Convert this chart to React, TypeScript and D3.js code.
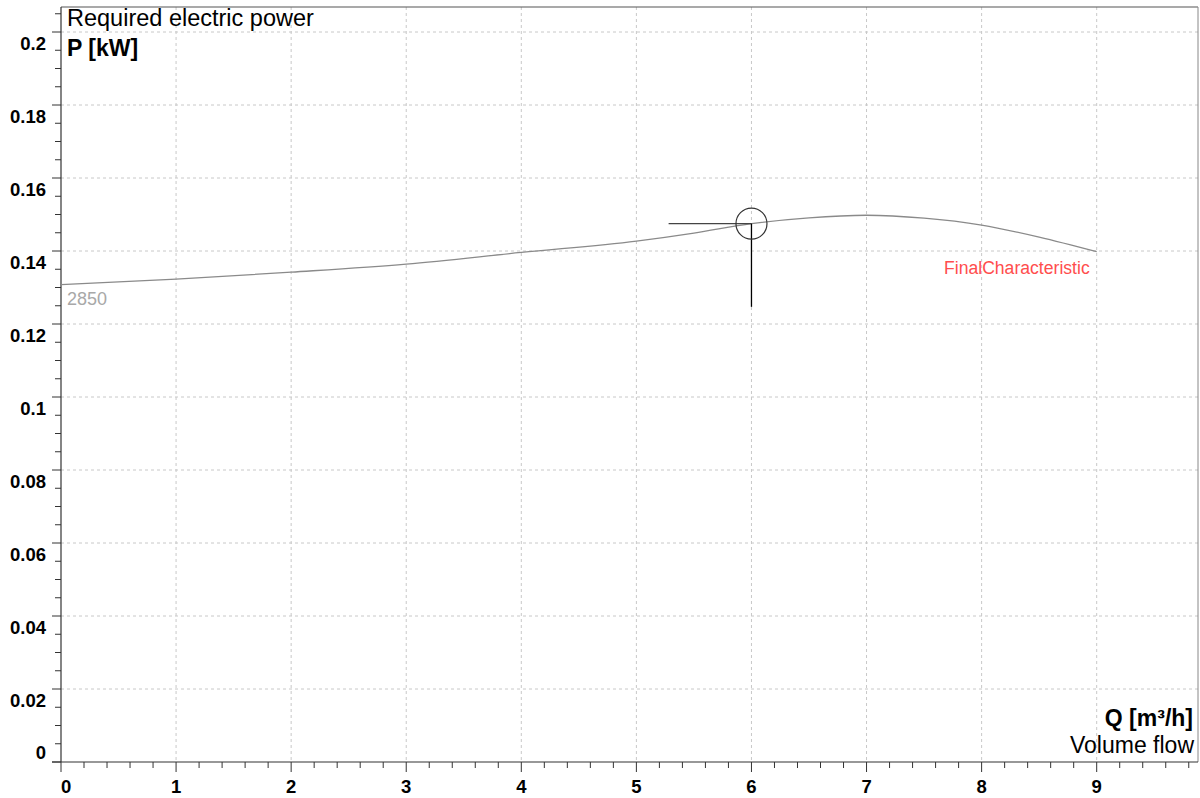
import React from "react";
import * as d3 from "d3";

const flowQ = [0, 1, 2, 3, 4, 5, 5.5, 6, 6.5, 7, 7.5, 8, 8.5, 9];
const powerP = [0.1308, 0.1323, 0.1342, 0.1364, 0.1396, 0.1427, 0.1449, 0.1475, 0.1491, 0.1498, 0.1490, 0.1471, 0.1438, 0.1398];
const xTicks = [0, 1, 2, 3, 4, 5, 6, 7, 8, 9];
const yTicks = [0, 0.02, 0.04, 0.06, 0.08, 0.1, 0.12, 0.14, 0.16, 0.18, 0.2];
const yTickLabels = ["0", "0.02", "0.04", "0.06", "0.08", "0.1", "0.12", "0.14", "0.16", "0.18", "0.2"];
const opPoint = { q: 6.0, p: 0.1475, qLeft: 5.28, pLow: 0.1247 };

const W = 1200;
const H = 798;
const L = 61, R = 1198, T = 7, B = 762;

export default function App() {
  const x = d3.scaleLinear().domain([0, 9]).range([L, 1096.7]);
  const y = d3.scaleLinear().domain([0, 0.2]).range([B, 32]);
  const xMax = x.invert(R);
  const yMax = y.invert(T);

  const minorX = d3.range(0, xMax, 0.2).filter((v) => Math.abs(v - Math.round(v)) > 1e-6);
  const minorY = d3.range(0, yMax, 0.005).filter((v) => Math.abs(v / 0.02 - Math.round(v / 0.02)) > 1e-6);

  const line = d3
    .line<number>()
    .x((_, i) => x(flowQ[i]))
    .y((d) => y(d))
    .curve(d3.curveMonotoneX);

  const font = "'Liberation Sans', Arial, sans-serif";
  const grid = "#c8c8c8";

  return (
    <svg width={W} height={H} style={{ position: "absolute", left: 0, top: 0, background: "#fff" }} fontFamily={font}>
      <rect x={0} y={0} width={W} height={H} fill="#fff" />
      {xTicks.filter((v) => v > 0).map((v) => (
        <line key={"gx" + v} x1={x(v)} x2={x(v)} y1={T} y2={B} stroke={grid} strokeDasharray="3,3" />
      ))}
      {yTicks.filter((v) => v > 0).map((v) => (
        <line key={"gy" + v} x1={L} x2={R} y1={y(v)} y2={y(v)} stroke={grid} strokeDasharray="3,3" />
      ))}
      <line x1={L} x2={R} y1={T} y2={T} stroke="#555" strokeWidth={1.2} />
      <line x1={R} x2={R} y1={T} y2={B} stroke="#888" strokeWidth={1} />
      <line x1={L} x2={L} y1={T} y2={B} stroke="#333" strokeWidth={1.2} />
      <line x1={52} x2={R} y1={B} y2={B} stroke="#333" strokeWidth={1.2} />
      {yTicks.map((v) => (
        <line key={"ty" + v} x1={52} x2={L} y1={y(v)} y2={y(v)} stroke="#333" />
      ))}
      {minorY.map((v) => (
        <line key={"my" + v} x1={55} x2={L} y1={y(v)} y2={y(v)} stroke="#333" />
      ))}
      {xTicks.map((v) => (
        <line key={"tx" + v} x1={x(v)} x2={x(v)} y1={B} y2={772} stroke="#333" />
      ))}
      {minorX.map((v) => (
        <line key={"mx" + v} x1={x(v)} x2={x(v)} y1={B} y2={768} stroke="#333" />
      ))}
      {yTicks.map((v, i) => (
        <text key={"ly" + v} x={46} y={v === 0 ? 759 : y(v) + 18} textAnchor="end" fontSize={18.5} fontWeight="bold" fill="#000">
          {yTickLabels[i]}
        </text>
      ))}
      {xTicks.map((v) => (
        <text key={"lx" + v} x={v === 0 ? L : x(v)} y={793} textAnchor={v === 0 ? "start" : "middle"} fontSize={18.5} fontWeight="bold" fill="#000">
          {String(v)}
        </text>
      ))}
      <path d={line(powerP) || ""} fill="none" stroke="#8a8a8a" strokeWidth={1.3} />
      <line x1={x(opPoint.qLeft)} x2={x(opPoint.q)} y1={y(opPoint.p)} y2={y(opPoint.p)} stroke="#444" strokeWidth={1.3} />
      <line x1={x(opPoint.q)} x2={x(opPoint.q)} y1={y(opPoint.p)} y2={y(opPoint.pLow)} stroke="#000" strokeWidth={1.3} />
      <circle cx={x(opPoint.q)} cy={y(opPoint.p)} r={15.5} fill="none" stroke="#333" strokeWidth={1.2} />
      <text x={67} y={26} fontSize={23.5} fill="#000">Required electric power</text>
      <text x={67} y={56} fontSize={23} fontWeight="bold" fill="#000">P [kW]</text>
      <text x={1193} y={726} fontSize={23} fontWeight="bold" textAnchor="end" fill="#000">Q [m³/h]</text>
      <text x={1194} y={753} fontSize={23} textAnchor="end" fill="#000">Volume flow</text>
      <text x={67} y={305} fontSize={18} fill="#a8a8a8">2850</text>
      <text x={944} y={274} fontSize={17.6} fill="#ff4d4d">FinalCharacteristic</text>
    </svg>
  );
}
